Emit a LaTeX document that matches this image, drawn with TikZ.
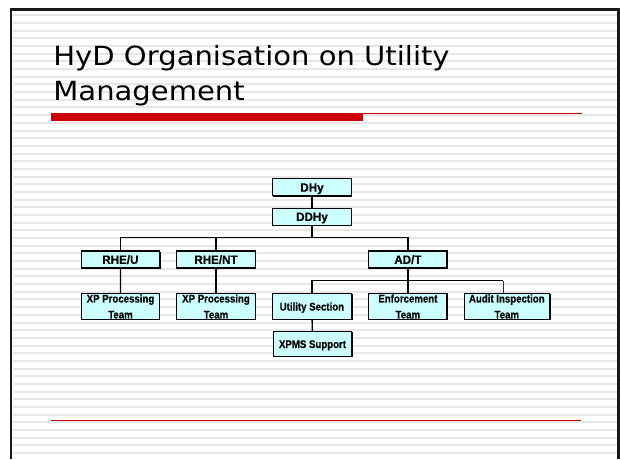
\documentclass[tikz,border=0pt]{standalone}
\usepackage{fontspec}
\setmainfont{Liberation Sans}
\newfontfamily\titlefont[FakeStretch=1.1]{DejaVu Sans}
\newfontfamily\topbold[FakeStretch=0.96,FakeBold=0.4]{Liberation Sans Bold}
\newfontfamily\condbold[FakeStretch=0.87,FakeBold=0.4]{Liberation Sans Bold}
\usetikzlibrary{calc}
\definecolor{slidered}{HTML}{CC0000}
\definecolor{boxfill}{HTML}{CCFFFF}
\definecolor{stripecol}{HTML}{E7E7E7}
\begin{document}
\begin{tikzpicture}[x=1pt,y=-1pt,
  orgbox/.style={fill=boxfill, inner sep=0pt, text=black, align=center},
  topbox/.style={orgbox, minimum width=78pt, minimum height=16.6pt,
    font=\topbold\fontsize{12.1}{13}\selectfont, text height=8.7pt, text depth=0pt},
  lowbox/.style={orgbox, minimum width=78pt, minimum height=25pt,
    font=\condbold\fontsize{11.1}{16}\selectfont},
  boxborder/.style={draw=black, line width=1.1pt},
  boxshadow/.style={draw=black, line width=0.9pt},
  conn/.style={draw=black, line width=1.3pt},
  thinconn/.style={draw=black!80, line width=0.9pt}]
\useasboundingbox (0,0) rectangle (620,459);
\fill[white] (0,0) rectangle (620,459);
% stripes
\foreach \k in {0,...,57}
  \fill[stripecol] (12.5,{15.3+7.68*\k-1}) rectangle (617.5,{15.3+7.68*\k+1});
% frame
\draw[black!90, line width=2.5pt] (11.2,459) -- (11.2,9.7) -- (618.4,9.7) -- (618.4,459);
% title
\node[anchor=base west, inner sep=0pt, align=left,
      font=\titlefont\fontsize{26.4}{35.7}\selectfont] (title) at (53.2,100.7)
  {HyD Organisation on Utility\\Management};
% red rules
\fill[slidered] (51,113.3) rectangle (363,120.7);
\draw[slidered, line width=1.1pt] (363,113.9) -- (582,113.9);
\draw[slidered, line width=1.2pt] (51,420.3) -- (581,420.3);
% boxes
\node[topbox] (dhy)   at (312,187.3) {DHy};
\node[topbox] (ddhy)  at (312,216.6) {DDHy};
\node[topbox, minimum width=77.3pt] (rheu)  at (120.4,259.5) {RHE/U};
\node[topbox] (rhent) at (216,259.5) {RHE/NT};
\node[topbox, minimum width=77.7pt] (adt)   at (407.9,259.5) {AD/T};
\node[lowbox, minimum width=77pt] (xpa) at (120.5,306.5) {XP Processing\\Team};
\node[lowbox] (xpb) at (216,306.5) {XP Processing\\Team};
\node[lowbox, minimum width=78.3pt, text height=8pt, text depth=0pt] (util) at (311.9,306.5) {Utility Section};
\node[lowbox, minimum width=77.7pt] (enf) at (407.9,306.5) {Enforcement\\Team};
\node[lowbox, minimum width=85pt] (audit) at (506.8,306.5) {Audit Inspection\\Team};
\node[lowbox, minimum width=78.4pt, minimum height=24pt, text height=8pt, text depth=0pt] (xpms) at (312.5,344) {XPMS Support};
% borders over the text
\foreach \n in {dhy,ddhy,rheu,rhent,adt,xpa,xpb,util,enf,audit,xpms}{
  \draw[boxborder] (\n.south west) rectangle (\n.north east);
  \draw[boxshadow] ($(\n.south west)+(0.6,0.7)$) -- ($(\n.south east)+(0.7,0.7)$) -- ($(\n.north east)+(0.7,0.6)$);
}
% connectors
\coordinate (busa) at (312,237.7);
\coordinate (busb) at (407.9,280.7);
\coordinate (auditin) at ($(audit.north)+(-3.8,0)$);
\draw[conn] (dhy) -- (ddhy);
\draw[conn] (ddhy.south) -- (busa);
\draw[conn] (rheu.north) -- (rheu.north |- busa) -- (adt.north |- busa) -- (adt.north);
\draw[conn] (rhent.north) -- (rhent.north |- busa);
\draw[conn] (rheu) -- (xpa);
\draw[conn] (rhent) -- (xpb);
\draw[conn] (adt.south) -- (busb);
\draw[conn] (util.north) -- (util.north |- busb) -- (auditin |- busb);
\draw[thinconn] (auditin |- busb) -- (auditin);
\draw[conn] (enf.north) -- (enf.north |- busb);
\draw[conn] (util) -- (xpms);
\end{tikzpicture}
\end{document}
